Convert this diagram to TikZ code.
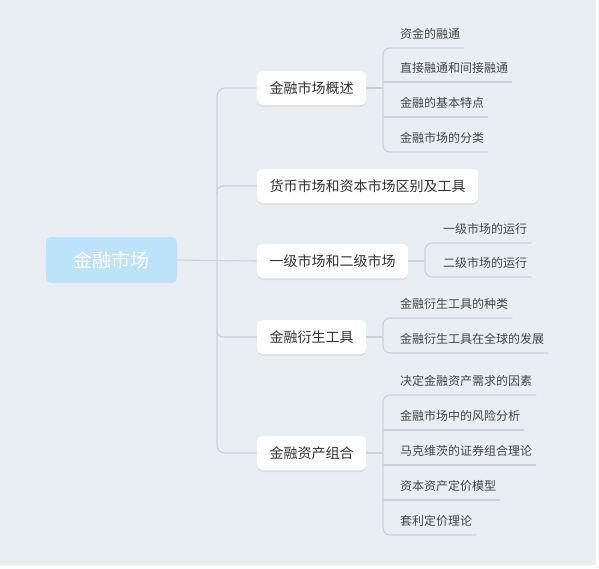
\documentclass[tikz,border=0pt]{standalone}
\usepackage{fontspec}
\setmainfont{Noto Sans CJK SC}
\usetikzlibrary{shadows}

\definecolor{bgcol}{HTML}{E9EEF3}
\definecolor{linecol}{HTML}{CBD1D9}
\definecolor{rootcol}{HTML}{BDE3FA}
\definecolor{textcol}{HTML}{333333}
\definecolor{leafcol}{HTML}{444444}

\tikzset{
  root/.style={fill=rootcol, rounded corners=5pt, text=white,
    minimum width=131pt, minimum height=46pt,
    font=\fontsize{19pt}{22pt}\selectfont},
  topic/.style={fill=white, rounded corners=5pt, text=textcol, anchor=west,
    minimum height=34pt, inner xsep=12.5pt,
    font=\fontsize{14pt}{17pt}\selectfont,
    drop shadow={shadow xshift=0pt, shadow yshift=-2pt, opacity=0.12}},
  leaf/.style={anchor=south west, inner xsep=0pt, inner ysep=0pt,
    text depth=9pt, text=leafcol, font=\fontsize{12pt}{14pt}\selectfont},
  link/.style={draw=linecol, line width=1.1pt}
}

\begin{document}
\begin{tikzpicture}[x=1pt,y=-1pt]
  % Canvas
  \useasboundingbox (0,0) rectangle (599,568);
  \fill[white] (0,0) rectangle (599,568);
  \fill[bgcol] (0,0) rectangle (596,565);

  % Central topic
  \node[root] (root) at (111.5,260) {金融市场};

  % Main topics
  \node[topic] (t1) at (257,88) {金融市场概述};
  \node[topic] (t2) at (257,186) {货币市场和资本市场区别及工具};
  \node[topic] (t3) at (257,261) {一级市场和二级市场};
  \node[topic] (t4) at (257,337) {金融衍生工具};
  \node[topic] (t5) at (257,453) {金融资产组合};

  % Trunk
  \coordinate (trunk) at (217,261);
  \draw[link, rounded corners=8pt] (t1.west) -- (t1.west -| trunk)
    -- (t5.west -| trunk) -- (t5.west);
  \draw[link, rounded corners=6pt] (t2.west) -- (t2.west -| trunk) -- ++(0,8);
  \draw[link, rounded corners=6pt] (t4.west) -- (t4.west -| trunk) -- ++(0,-8);
  \draw[link] (root.east) -- (t3.west);

  % Subtopics of t1
  \coordinate (b1) at (383,88);
  \node[leaf] (l11) at (400,48) {资金的融通};
  \node[leaf] (l12) at (400,82) {直接融通和间接融通};
  \node[leaf] (l13) at (400,117) {金融的基本特点};
  \node[leaf] (l14) at (400,152) {金融市场的分类};
  \draw[link] (t1.east) -- (b1);
  \draw[link, rounded corners=7pt] ([xshift=4pt]l11.south east) -- (l11.south west -| b1)
    -- (l14.south west -| b1) -- ([xshift=4pt]l14.south east);
  \draw[link] (l12.south west -| b1) -- ([xshift=4pt]l12.south east);
  \draw[link] (l13.south west -| b1) -- ([xshift=4pt]l13.south east);

  % Subtopics of t3
  \coordinate (b3) at (425,261);
  \node[leaf] (l31) at (443,243) {一级市场的运行};
  \node[leaf] (l32) at (443,277) {二级市场的运行};
  \draw[link] (t3.east) -- (b3);
  \draw[link, rounded corners=7pt] ([xshift=4pt]l31.south east) -- (l31.south west -| b3)
    -- (l32.south west -| b3) -- ([xshift=4pt]l32.south east);

  % Subtopics of t4
  \coordinate (b4) at (383,337);
  \node[leaf] (l41) at (400,318) {金融衍生工具的种类};
  \node[leaf] (l42) at (400,353) {金融衍生工具在全球的发展};
  \draw[link] (t4.east) -- (b4);
  \draw[link, rounded corners=7pt] ([xshift=4pt]l41.south east) -- (l41.south west -| b4)
    -- (l42.south west -| b4) -- ([xshift=4pt]l42.south east);

  % Subtopics of t5
  \coordinate (b5) at (383,453);
  \node[leaf] (l51) at (400,395) {决定金融资产需求的因素};
  \node[leaf] (l52) at (400,430) {金融市场中的风险分析};
  \node[leaf] (l53) at (400,465) {马克维茨的证券组合理论};
  \node[leaf] (l54) at (400,500) {资本资产定价模型};
  \node[leaf] (l55) at (400,535) {套利定价理论};
  \draw[link] (t5.east) -- (b5);
  \draw[link, rounded corners=7pt] ([xshift=4pt]l51.south east) -- (l51.south west -| b5)
    -- (l55.south west -| b5) -- ([xshift=4pt]l55.south east);
  \draw[link] (l52.south west -| b5) -- ([xshift=4pt]l52.south east);
  \draw[link] (l53.south west -| b5) -- ([xshift=4pt]l53.south east);
  \draw[link] (l54.south west -| b5) -- ([xshift=4pt]l54.south east);
\end{tikzpicture}
\end{document}
